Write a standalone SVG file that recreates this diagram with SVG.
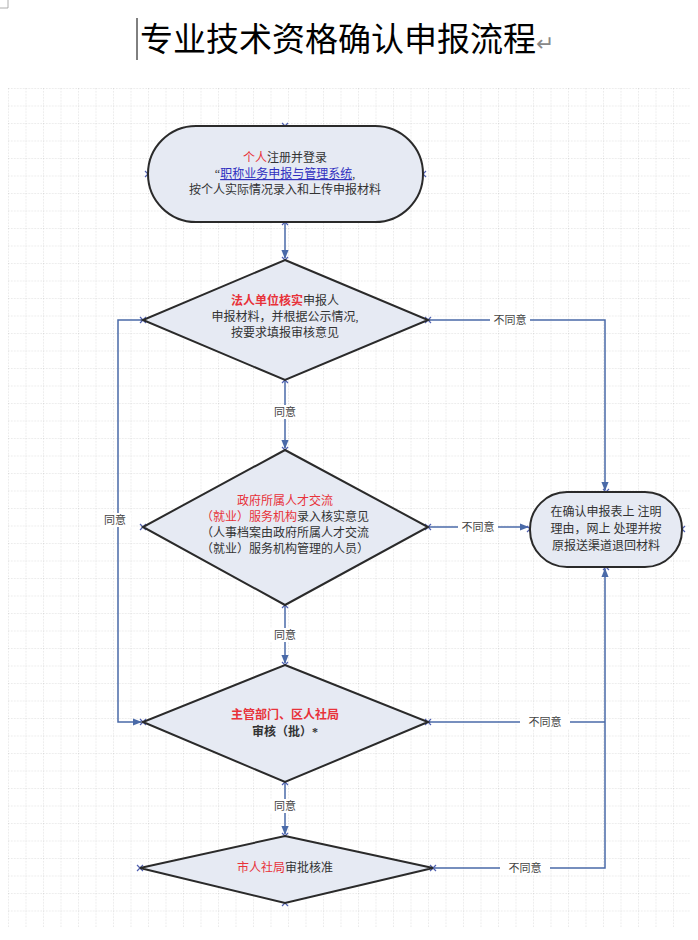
<svg xmlns="http://www.w3.org/2000/svg" width="698" height="940" viewBox="0 0 698 940">
<defs>
<pattern id="g" x="8" y="88" width="17.5" height="17.5" patternUnits="userSpaceOnUse">
<path d="M0 0H17.5M0 0V17.5" fill="none" stroke="#c8c8c8" stroke-width="0.8" stroke-dasharray="1.5 1.5"/>
</pattern>
<marker id="a" viewBox="0 0 10 10" refX="9" refY="5" markerWidth="6" markerHeight="6" orient="auto"><path d="M0 1L10 5L0 9z" fill="#4a6aa8"/></marker>
<path id="x" d="M-3 -3L3 3M-3 3L3 -3" stroke="#5060b0" stroke-width="1.2" fill="none"/>
</defs>
<style>
.n{fill:#e6eaf3;stroke:#2a2a2a;stroke-width:2}
.t{font-family:"Liberation Serif","Noto Sans CJK SC",serif;font-size:12px;fill:#333;text-anchor:middle}
.r{fill:#e8323a}
.c{fill:none;stroke:#4a6aa8;stroke-width:1.5}
.l{font-family:"Liberation Serif","Noto Sans CJK SC",serif;font-size:11px;fill:#444;text-anchor:middle}
.lb{fill:#fff}
</style>
<rect width="698" height="940" fill="#fff"/>
<rect x="8" y="88" width="682" height="840" fill="url(#g)"/>
<path d="M0 8H8V0" fill="none" stroke="#999" stroke-width="0.8"/>
<line x1="137" y1="18" x2="137" y2="60" stroke="#000" stroke-width="1"/>
<text x="140" y="51" font-family="Liberation Serif,'Noto Sans CJK SC',serif" font-size="33" fill="#000">专业技术资格确认申报流程<tspan fill="#888" font-size="22">↵</tspan></text>

<g id="connectors">
<path class="c" d="M285 222V258" marker-end="url(#a)"/>
<path class="c" d="M285 380V448" marker-end="url(#a)"/>
<path class="c" d="M285 605V663" marker-end="url(#a)"/>
<path class="c" d="M285 782V834" marker-end="url(#a)"/>
<path class="c" d="M428 320H605V490" marker-end="url(#a)"/>
<path class="c" d="M428 527H528" marker-end="url(#a)"/>
<path class="c" d="M433 868H605V569" marker-end="url(#a)"/>
<path class="c" d="M428 722H605"/>
<path class="c" d="M143 320H118V722H141" marker-end="url(#a)"/>
<rect class="lb" x="270" y="405" width="30" height="14"/><text class="l" x="285" y="416">同意</text>
<rect class="lb" x="270" y="628" width="30" height="14"/><text class="l" x="285" y="639">同意</text>
<rect class="lb" x="270" y="799" width="30" height="14"/><text class="l" x="285" y="810">同意</text>
<rect class="lb" x="101" y="513" width="30" height="14"/><text class="l" x="115" y="524">同意</text>
<rect class="lb" x="490" y="313" width="40" height="14"/><text class="l" x="510" y="324">不同意</text>
<rect class="lb" x="458" y="520" width="40" height="14"/><text class="l" x="478" y="531">不同意</text>
<rect class="lb" x="520" y="715" width="50" height="14"/><text class="l" x="545" y="726">不同意</text>
<rect class="lb" x="500" y="861" width="50" height="14"/><text class="l" x="525" y="872">不同意</text>
<g>
<use href="#x" x="285" y="126"/><use href="#x" x="148" y="174"/><use href="#x" x="423" y="174"/><use href="#x" x="285" y="222"/>
<use href="#x" x="285" y="260"/><use href="#x" x="143" y="320"/><use href="#x" x="428" y="320"/><use href="#x" x="285" y="380"/>
<use href="#x" x="285" y="450"/><use href="#x" x="143" y="527"/><use href="#x" x="428" y="527"/><use href="#x" x="285" y="605"/>
<use href="#x" x="285" y="665"/><use href="#x" x="143" y="722"/><use href="#x" x="428" y="722"/><use href="#x" x="285" y="782"/>
<use href="#x" x="285" y="836"/><use href="#x" x="140" y="868"/><use href="#x" x="433" y="868"/><use href="#x" x="285" y="903"/>
<use href="#x" x="606" y="492"/><use href="#x" x="530" y="529"/><use href="#x" x="682" y="529"/><use href="#x" x="606" y="567"/>
</g>
</g>

<g id="n1">
<rect class="n" x="148" y="126" width="275" height="96" rx="48"/>
<text class="t" x="285" y="162"><tspan class="r">个人</tspan>注册并登录</text>
<text class="t" x="285" y="178">“<tspan fill="#3030c0" text-decoration="underline">职称业务申报与管理系统</tspan>,</text>
<text class="t" x="285" y="194">按个人实际情况录入和上传申报材料</text>
</g>
<g id="d1">
<polygon class="n" points="285,260 428,320 285,380 143,320"/>
<text class="t" x="285" y="305"><tspan class="r" font-weight="bold">法人单位核实</tspan>申报人</text>
<text class="t" x="285" y="321">申报材料，并根据公示情况,</text>
<text class="t" x="285" y="337">按要求填报审核意见</text>
</g>
<g id="d2">
<polygon class="n" points="285,450 428,527 285,605 143,527"/>
<text class="t r" x="285" y="505">政府所属人才交流</text>
<text class="t" x="285" y="521"><tspan class="r">（就业）服务机构</tspan>录入核实意见</text>
<text class="t" x="285" y="537">（人事档案由政府所属人才交流</text>
<text class="t" x="285" y="553">（就业）服务机构管理的人员）</text>
</g>
<g id="d3">
<polygon class="n" points="285,665 428,722 285,782 143,722"/>
<text class="t r" x="285" y="719" font-weight="bold">主管部门、区人社局</text>
<text class="t" x="285" y="736" font-weight="bold">审核（批）*</text>
</g>
<g id="d4">
<polygon class="n" points="285,836 433,868 285,903 140,868"/>
<text class="t" x="285" y="872"><tspan class="r">市人社局</tspan>审批核准</text>
</g>
<g id="box">
<rect class="n" x="530" y="492" width="152" height="75" rx="37"/>
<text class="t" x="606" y="516">在确认申报表上 注明</text>
<text class="t" x="606" y="533">理由，网上 处理并按</text>
<text class="t" x="606" y="550">原报送渠道退回材料</text>
</g>
</svg>
